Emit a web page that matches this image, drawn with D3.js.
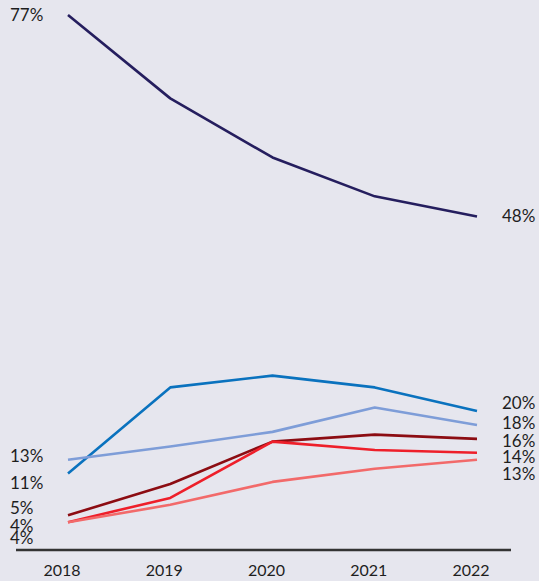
<!DOCTYPE html>
<html>
<head>
<meta charset="utf-8">
<script src="https://cdn.jsdelivr.net/npm/d3@7/dist/d3.min.js"></script>
<style>
  html, body { margin: 0; padding: 0; background: #e6e6ee; }
  svg { display: block; }
  text { font-family: Lato, "Open Sans", sans-serif; fill: #1e1e1e; }
</style>
</head>
<body>
<svg id="chart" width="539" height="581"></svg>
<script>
// Years on the x axis
const years = ["2018", "2019", "2020", "2021", "2022"];

// Share (%) per series, one value per year
const s1 = [77, 65.0, 56.5, 50.9, 48];
const s2 = [11, 23.4, 25.1, 23.4, 20];
const s3 = [13, 14.9, 17.0, 20.5, 18];
const s4 = [5, 9.5, 15.6, 16.6, 16];
const s5 = [4, 7.5, 15.6, 14.4, 14];
const s6 = [4, 6.5, 9.8, 11.7, 13];

const allSeries = [s1, s2, s3, s4, s5, s6];
const colors = ["#251e5e", "#0a72be", "#7e9dd8", "#8c0c12", "#ee1f2a", "#f26a6a"];

// Vertical nudges (px) that keep the end labels apart
const leftNudge = [0, 9, -4, -7, 4, 16];
const rightNudge = [0, -8, -2, 2, 4, 14];

const svg = d3.select("#chart");

const x = d3.scalePoint().domain(years).range([68, 477]);
const y = d3.scaleLinear().domain([0, 77]).range([550, 15]);

const line = d3.line()
  .x((d, i) => x(years[i]))
  .y(d => y(d));

// Series lines
svg.append("g")
  .selectAll("path")
  .data(allSeries)
  .join("path")
  .attr("d", d => line(d))
  .attr("fill", "none")
  .attr("stroke", (d, i) => colors[i])
  .attr("stroke-width", 2.6)
  .attr("stroke-linejoin", "round");

const pct = v => d3.format(".0f")(v) + "%";

// Start-of-series labels
svg.append("g")
  .selectAll("text")
  .data(allSeries)
  .join("text")
  .attr("x", 10)
  .attr("y", (s, i) => y(s[0]) + leftNudge[i])
  .attr("dy", "0.35em")
  .attr("font-size", 17)
  .text(s => pct(s[0]));

// End-of-series labels
svg.append("g")
  .selectAll("text")
  .data(allSeries)
  .join("text")
  .attr("x", 502)
  .attr("y", (s, i) => y(s[s.length - 1]) + rightNudge[i])
  .attr("dy", "0.35em")
  .attr("font-size", 17)
  .text(s => pct(s[s.length - 1]));

// Baseline axis
const axis = svg.append("g").attr("transform", "translate(0,550)");
axis.append("line")
  .attr("x1", 16).attr("x2", 511)
  .attr("stroke", "#333").attr("stroke-width", 2.5);

axis.selectAll("text.tick")
  .data(years)
  .join("text")
  .attr("class", "tick")
  .attr("x", d => x(d) - 6)
  .attr("y", 20)
  .attr("dy", "0.35em")
  .attr("text-anchor", "middle")
  .attr("font-size", 16)
  .text(d => d);
</script>
</body>
</html>
